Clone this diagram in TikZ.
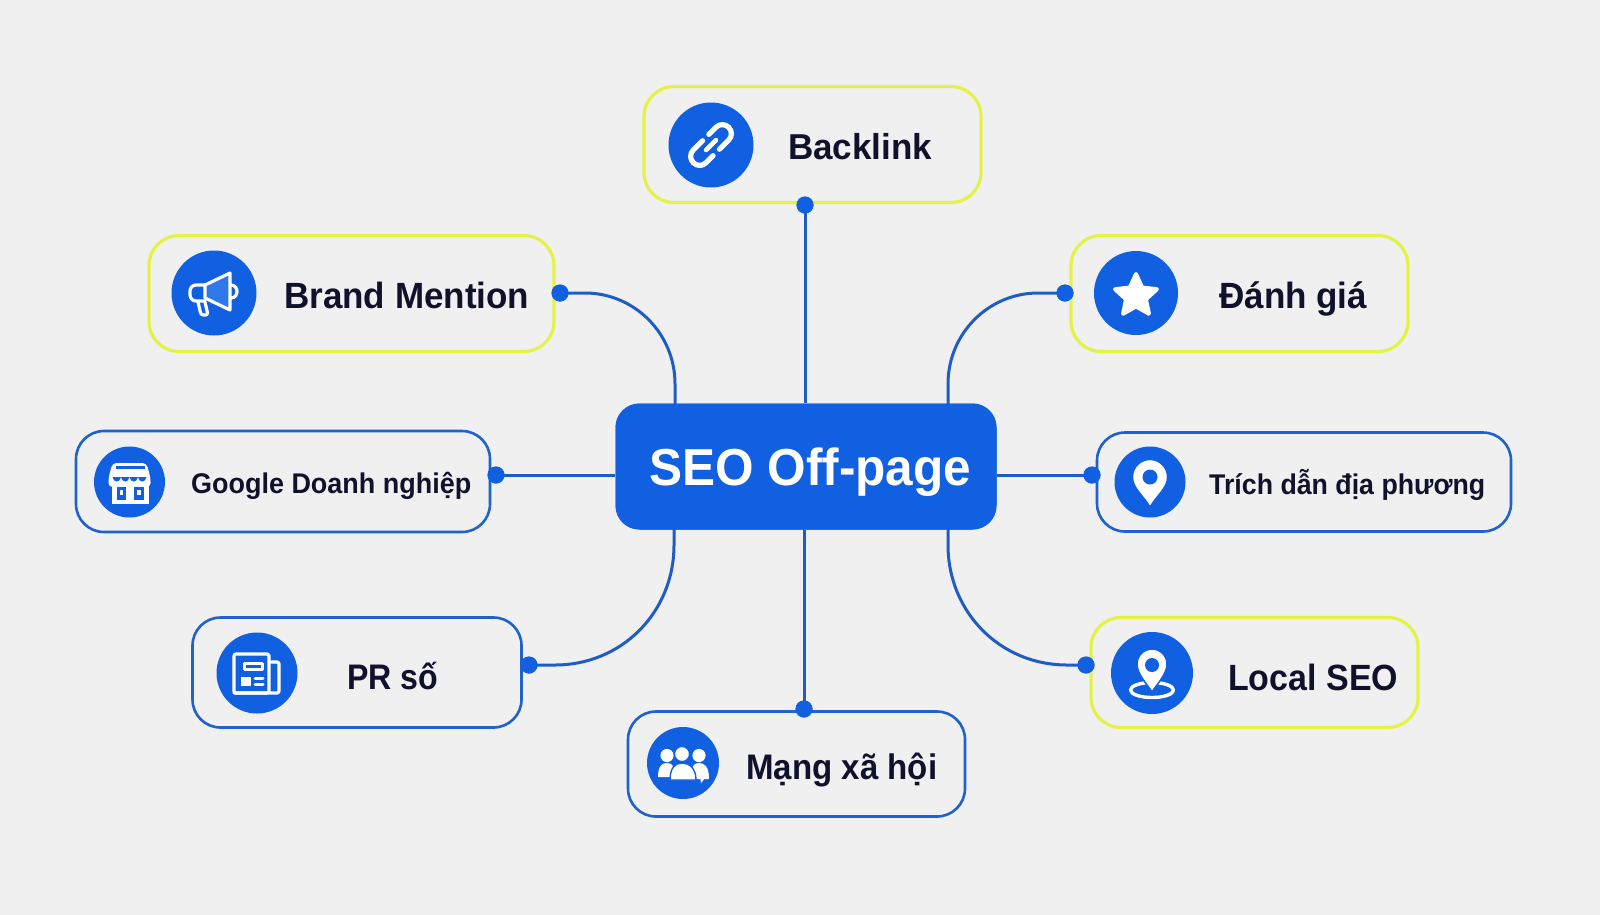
\documentclass[tikz,border=0pt]{standalone}
\usepackage{fontspec}
\usepackage{graphicx}
\setmainfont{Liberation Sans}
\usetikzlibrary{shapes.geometric}
\definecolor{bgc}{HTML}{F0F0F1}
\definecolor{mainblue}{HTML}{1160E2}
\definecolor{lineblue}{HTML}{1F5DC4}
\definecolor{boxblue}{HTML}{2061CA}
\definecolor{limec}{HTML}{E4F245}
\definecolor{inkc}{HTML}{10122C}
\definecolor{conec}{HTML}{2E78EA}
\newsavebox\fitbox
\newcommand\fitw[3]{{\fontsize{#2}{#2}\selectfont\bfseries\sbox\fitbox{#3}\pgfmathsetmacro\fitr{#1/\the\wd\fitbox}\scalebox{\fitr}[1]{\usebox\fitbox}}}
\tikzset{
  limebox/.style={draw=limec,line width=3.2pt,rounded corners=30pt,minimum width=#1,inner sep=0pt},
  bluebox/.style={draw=boxblue,line width=2.6pt,rounded corners=28pt,minimum width=#1,inner sep=0pt},
  conn/.style={draw=lineblue,line width=3pt},
  port/.style={circle,fill=mainblue,minimum size=17pt,inner sep=0pt},
  disc/.style={circle,fill=mainblue,minimum size=#1,inner sep=0pt},
  label/.style={anchor=base west,inner sep=0pt,text=inkc},
  hub/.style={fill=mainblue,rounded corners=24pt,minimum width=381pt,minimum height=126pt,inner sep=0pt},
  wline/.style={draw=white,line width=#1,line join=round,line cap=round},
}
\begin{document}
\begin{tikzpicture}[x=1pt,y=-1pt]
\useasboundingbox (0,0) rectangle (1600,914);
\fill[bgc] (-6,-6) rectangle (1606,920);

% hub and boxes
\node[hub] (hubn) at (806,466.5) {};
\node[limebox=337pt,minimum height=116pt] (bback) at (812.5,144.5) {};
\node[limebox=405pt,minimum height=116pt] (bbrand) at (351.5,293.5) {};
\node[limebox=337pt,minimum height=116pt] (bdanh) at (1239.5,293.5) {};
\node[bluebox=414pt,minimum height=101pt] (bgoog) at (283,481.5) {};
\node[bluebox=414pt,minimum height=99pt] (btrich) at (1304,482) {};
\node[bluebox=329pt,minimum height=110pt] (bpr) at (357,672.5) {};
\node[bluebox=337pt,minimum height=105pt] (bmang) at (796.5,764) {};
\node[limebox=327pt,minimum height=110pt] (blocal) at (1254.5,672.5) {};

% ports
\node[port] (pback) at (805,205) {};
\node[port] (pbrand) at (560,293) {};
\node[port] (pdanh) at (1065,293) {};
\node[port] (pgoog) at (496,475) {};
\node[port] (ptrich) at (1092,475) {};
\node[port] (ppr) at (529,665) {};
\node[port] (pmang) at (804,709) {};
\node[port] (plocal) at (1086,665) {};

% connector ends on the hub
\coordinate (hbrand) at (675,404);
\coordinate (hdanh) at (948,404);
\coordinate (hpr) at (674,529);
\coordinate (hlocal) at (948,529);

\draw[conn] (pback.center) -- (pback.center |- hubn.north);
\draw[conn] (pmang.center) -- (pmang.center |- hubn.south);
\draw[conn] (pgoog.center) -- (pgoog.center -| hubn.west);
\draw[conn] (ptrich.center) -- (ptrich.center -| hubn.east);
\draw[conn] (pbrand.center) -- (585,293) .. controls (634,293) and (675,333) .. (675,384) -- (hbrand);
\draw[conn] (pdanh.center) -- (1038,293) .. controls (989,293) and (948,333) .. (948,384) -- (hdanh);
\draw[conn] (ppr.center) -- (555,665) .. controls (622,665) and (674,612) .. (674,545) -- (hpr);
\draw[conn] (plocal.center) -- (1067,665) .. controls (1000,665) and (948,612) .. (948,545) -- (hlocal);
% ports and hub again above the line ends
\node[port] (pback2) at (pback) {};
\node[port] (pbrand2) at (pbrand) {};
\node[port] (pdanh2) at (pdanh) {};
\node[port] (pgoog2) at (pgoog) {};
\node[port] (ptrich2) at (ptrich) {};
\node[port] (ppr2) at (ppr) {};
\node[port] (pmang2) at (pmang) {};
\node[port] (plocal2) at (plocal) {};
\node[hub] (hub2) at (hubn) {};

% discs
\node[disc=85pt] (dback) at (711,145) {};
\node[disc=85pt] (dbrand) at (214,293) {};
\node[disc=84pt] (ddanh) at (1136,293) {};
\node[disc=71pt] (dgoog) at (129.5,482) {};
\node[disc=71pt] (dtrich) at (1150,482) {};
\node[disc=81pt] (dpr) at (257,673) {};
\node[disc=72pt] (dmang) at (683,763) {};
\node[disc=82pt] (dlocal) at (1152,673) {};

% labels
\node[label] (tback) at (788,159) {\fitw{144}{36}{Backlink}};
\node[label] (tbrand) at (284,308) {\fitw{245}{36.5}{Brand Mention}};
\node[label] (tdanh) at (1219,308) {\fitw{148}{36.5}{Đánh giá}};
\node[label] (tgoog) at (191,493) {\fitw{280}{28.5}{Google Doanh nghiệp}};
\node[label] (ttrich) at (1209,494) {\fitw{276}{28.5}{Trích dẫn địa phương}};
\node[label] (tpr) at (347,689) {\fitw{91}{35.5}{PR số}};
\node[label] (tmang) at (746,779) {\fitw{191}{35.5}{Mạng xã hội}};
\node[label] (tlocal) at (1228,690) {\fitw{170}{36.5}{Local SEO}};
\node[anchor=base west,inner sep=0pt,text=white] (thub) at (649,485) {\fitw{322}{52}{SEO Off-page}};

% link icon
\begin{scope}[shift={(711,145)},rotate=45]
  \draw[wline=5.2pt,rounded corners=8.8pt] (-3,-9) -- (-25,-9) -- (-25,9) -- (-6,9);
  \draw[wline=5.2pt,rounded corners=8.8pt] (3,9) -- (25,9) -- (25,-9) -- (6,-9);
  \draw[wline=4.6pt] (-7,0) -- (7,0);
\end{scope}

% megaphone icon
\begin{scope}[shift={(214,293)}]
  \draw[wline=3.2pt,fill=conec] (-9,-8) -- (16,-20) -- (16,17) -- (-9,5) -- cycle;
  \draw[wline=3.2pt,rounded corners=6pt] (-9,-8) -- (-24,-8) -- (-24,8) -- (-9,8);
  \draw[wline=3.2pt,rounded corners=2.5pt] (-16,9) -- (-13,22) -- (-6,22) -- (-9,9);
  \draw[wline=3.2pt] (17,-8) .. controls (25,-8) and (25,5) .. (17,5);
\end{scope}

% star icon
\node[star,star points=5,star point ratio=2.1,fill=white,draw=white,line width=4pt,line join=round,minimum size=44pt,inner sep=0pt] (istar) at (1136,296) {};

% store icon
\begin{scope}[shift={(129.5,482)}]
  \fill[white] (-18,-4) rectangle (19,22);
  \fill[white,rounded corners=4pt] (-21,-4) -- (-17,-19) -- (17,-19) -- (21,-4) -- (21,5) -- (-21,5) -- cycle;
  \fill[mainblue] (-14,-16) rectangle (15,-13);
  \foreach \q in {-17,-8.5,0,8.5} {\fill[mainblue] (\q,-5) .. controls (\q+1,1) and (\q+7.5,1) .. (\q+8.5,-5) -- cycle;}
  \foreach \q in {-13,4.5} {
    \fill[mainblue] (\q,5) rectangle (\q+9.5,18);
    \fill[white] (\q+3,8) rectangle (\q+6.5,12.5);
  }
\end{scope}

% pin icon
\begin{scope}[shift={(1150,482)}]
  \fill[white,draw=white,line join=round] (0,23) .. controls (-6,13) and (-16.5,5) .. (-16.5,-5) .. controls (-16.5,-14) and (-9,-21.5) .. (0,-21.5) .. controls (9,-21.5) and (16.5,-14) .. (16.5,-5) .. controls (16.5,5) and (6,13) .. (0,23) -- cycle;
  \fill[mainblue] (0,-5) circle[radius=7.5pt];
\end{scope}

% newspaper icon
\begin{scope}[shift={(257,673)}]
  \draw[wline=3.2pt,rounded corners=2pt] (-23,-19) rectangle (12,20);
  \draw[wline=3.2pt,rounded corners=2pt] (12,-11) -- (22,-11) -- (22,20) -- (-23,20);
  \draw[wline=3pt] (-13,-10) rectangle (5,-3.5);
  \fill[white] (-16,4) rectangle (-6.5,13);
  \draw[wline=3pt] (-2,5) -- (6,5);
  \draw[wline=3pt] (-2,11) -- (6,11);
\end{scope}

% people icon
\begin{scope}[shift={(683,763)}]
  \fill[white] (-16,-7.5) circle[radius=6.6pt];
  \fill[white] (16,-7.5) circle[radius=6.6pt];
  \fill[white] (-25,14) .. controls (-25,3) and (-21,0) .. (-16,0) .. controls (-11,0) and (-8,3) .. (-8,14) -- cycle;
  \fill[white] (8,14) .. controls (8,3) and (11,0) .. (16,0) .. controls (21,0) and (26,3) .. (26,16) -- (8,16) -- cycle;
  \fill[white] (17,14) -- (18,20) -- (23,14) -- cycle;
  \fill[white,draw=mainblue,line width=1.4pt] (-13,17) .. controls (-13,5) and (-8,0) .. (-1,0) .. controls (6,0) and (13,5) .. (13,17) -- cycle;
  \fill[white,draw=mainblue,line width=1.4pt] (-1,-9) circle[radius=7.6pt];
\end{scope}

% local pin icon
\begin{scope}[shift={(1152,673)}]
  \draw[wline=3.4pt] (0,17) ellipse[x radius=21.5pt,y radius=7.5pt];
  \fill[mainblue] (-5,7) -- (5,7) -- (5,20) -- (-5,20) -- cycle;
  \fill[white,draw=mainblue,line width=1.5pt,line join=round] (0,19) .. controls (-5,11) and (-15,1) .. (-15,-9) .. controls (-15,-17.5) and (-8,-24) .. (0,-24) .. controls (8,-24) and (15,-17.5) .. (15,-9) .. controls (15,1) and (5,11) .. (0,19) -- cycle;
  \fill[mainblue] (0,-8) circle[radius=7pt];
\end{scope}
\end{tikzpicture}
\end{document}
